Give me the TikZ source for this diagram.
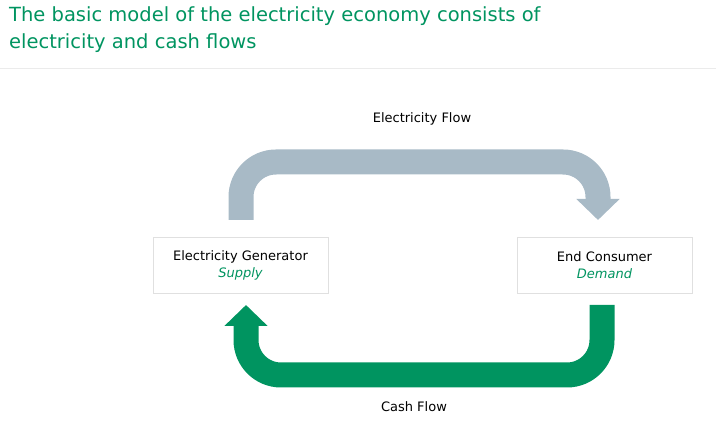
\documentclass[tikz,border=0pt]{standalone}
\usepackage{fontspec}
\setmainfont{DejaVu Sans}
\usetikzlibrary{arrows.meta,shadows}
\definecolor{cashgreen}{RGB}{0,148,96}
\definecolor{flowgray}{RGB}{168,186,198}
\tikzset{%
  party/.style = {draw=black!12, fill=white, minimum width=175pt, minimum height=56pt,%
                  align=center, font=\fontsize{13}{17}\selectfont,%
                  drop shadow={shadow xshift=1pt, shadow yshift=-1pt, opacity=0.25}},%
  flow/.style  = {line width=25pt, rounded corners=35pt,%
                  -{Triangle[width=42pt,length=21pt]}},%
  label/.style = {font=\fontsize{13}{16}\selectfont}%
}
\begin{document}
\begin{tikzpicture}[x=1pt,y=-1pt]
	\useasboundingbox (0,0) rectangle (716,438);
	\node[anchor=north west, align=left, text=cashgreen, inner sep=0pt,
	      font=\fontsize{19.5}{27}\selectfont] (title) at (9,6)
	      {The basic model of the electricity economy consists of\\electricity and cash flows};
	\draw[black!8] (0,68) -- (716,68);
	% parties
	\node[party] (gen) at (240.5,265) {Electricity Generator\\\textcolor{cashgreen}{\itshape Supply}};
	\node[party] (con) at (604.5,265) {End Consumer\\\textcolor{cashgreen}{\itshape Demand}};
	% flows
	\coordinate (elstart) at (241,220);
	\coordinate (elend)   at (598,220);
	\coordinate (cashstart) at (602,305);
	\coordinate (cashend)   at (246,305);
	\draw[flow, flowgray] (elstart) -- (241,162) -- (598,162) -- (elend);
	\draw[flow, cashgreen] (cashstart) -- (602,375) -- (246,375) -- (cashend);
	\node[label] (elflow) at (422,119) {Electricity Flow};
	\node[label] (cashflow) at (414,407) {Cash Flow};
\end{tikzpicture}
\end{document}
